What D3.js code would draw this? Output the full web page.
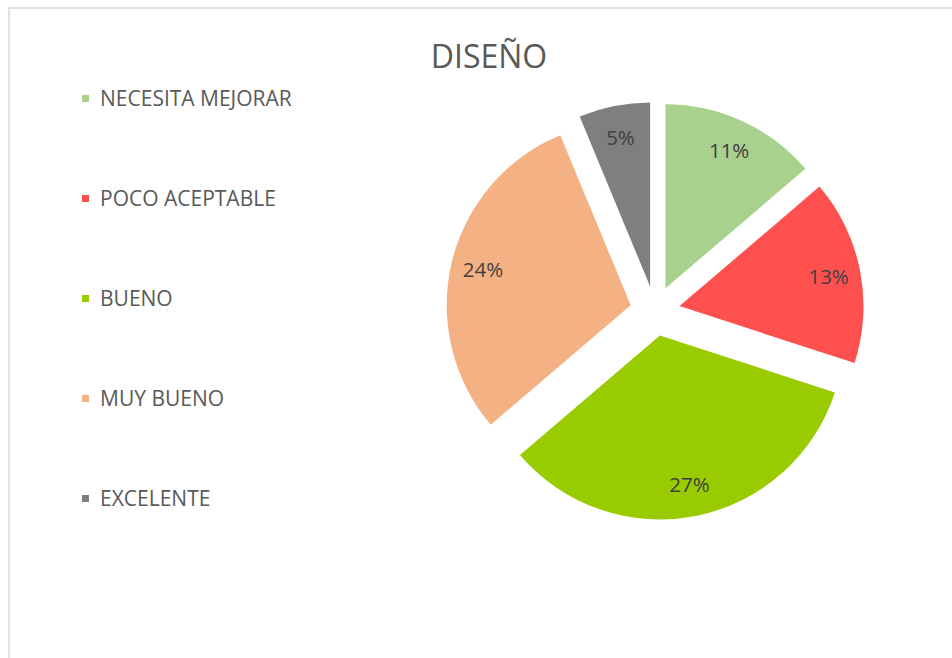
<!DOCTYPE html>
<html>
<head>
<meta charset="utf-8">
<script src="https://cdn.jsdelivr.net/npm/d3@7"></script>
<style>
  body { margin: 0; background: #fff; }
  text { font-family: "Open Sans", sans-serif; }
</style>
</head>
<body>
<script>
// datos del grafico
var categorias = ["NECESITA MEJORAR", "POCO ACEPTABLE", "BUENO", "MUY BUENO", "EXCELENTE"]
var valores = [11, 13, 27, 24, 5]
var etiquetas = ["11%", "13%", "27%", "24%", "5%"]
var colores = ["#a9d18e", "#ff5050", "#99cc00", "#f4b183", "#7f7f7f"]
var titulo = "DISEÑO"

var width = 952, height = 658

let svg = d3.select("body")
  .append("svg")
  .attr("width", width)
  .attr("height", height)

// marco del grafico
svg.append("rect")
  .attr("x", 9)
  .attr("y", 8)
  .attr("width", width + 20)
  .attr("height", height + 20)
  .attr("fill", "none")
  .attr("stroke", "#d9d9d9")
  .attr("stroke-width", 1.5)

svg.append("text")
  .attr("x", 489)
  .attr("y", 68)
  .attr("text-anchor", "middle")
  .attr("font-size", 32)
  .attr("fill", "#595959")
  .text(titulo)

// leyenda
let legend = svg.append("g")
  .selectAll("g")
  .data(categorias)
  .enter()
  .append("g")
  .attr("transform", (d, i) => "translate(82," + (98.5 + i * 100) + ")")

legend.append("rect")
  .attr("x", 0)
  .attr("y", -3.5)
  .attr("width", 7)
  .attr("height", 7)
  .attr("fill", (d, i) => colores[i])

legend.append("text")
  .attr("x", 18)
  .attr("y", 7.5)
  .attr("font-size", 21)
  .attr("fill", "#595959")
  .text(d => d)

// pastel
let cx = 655, cy = 311
let radio = 184, separacion = 25

let pie = d3.pie()
  .sort(null)
  .value(d => d)

let arcos = pie(valores)

let arc = d3.arc()
  .innerRadius(0)
  .outerRadius(radio)

let arcLabel = d3.arc()
  .innerRadius(152)
  .outerRadius(152)

let g = svg.append("g")
  .attr("transform", "translate(" + cx + "," + cy + ")")

let slices = g.selectAll("g.slice")
  .data(arcos)
  .enter()
  .append("g")
  .attr("class", "slice")
  .attr("transform", d => {
    let a = (d.startAngle + d.endAngle) / 2
    return "translate(" + (Math.sin(a) * separacion) + "," + (-Math.cos(a) * separacion) + ")"
  })

slices.append("path")
  .attr("d", arc)
  .attr("fill", (d, i) => colores[i])

slices.append("text")
  .attr("transform", d => "translate(" + arcLabel.centroid(d) + ")")
  .attr("text-anchor", "middle")
  .attr("dy", "0.36em")
  .attr("font-size", 20.5)
  .attr("fill", "#404040")
  .text((d, i) => etiquetas[i])
</script>
</body>
</html>
